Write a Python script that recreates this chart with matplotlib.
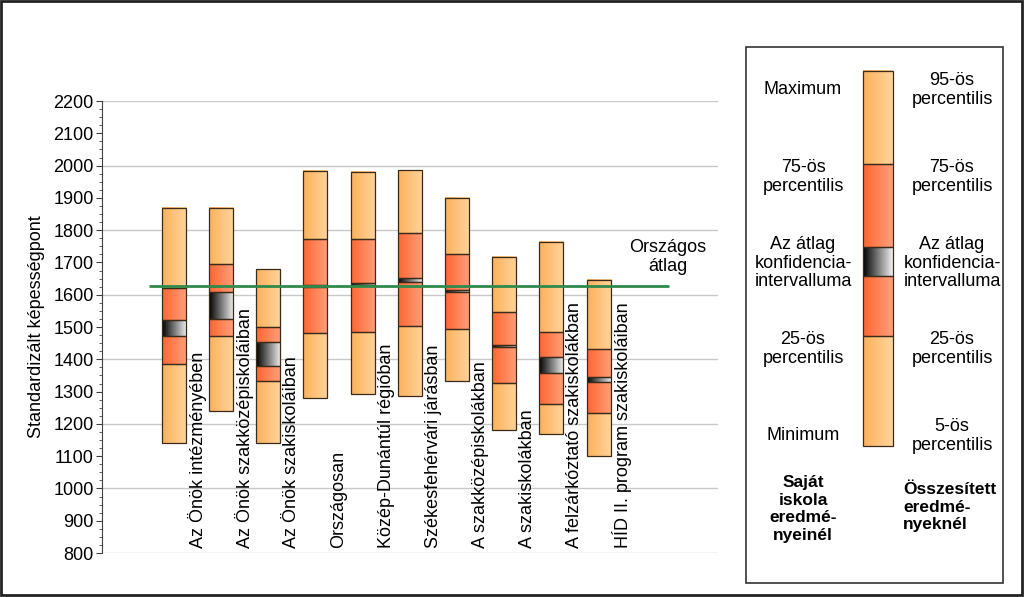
import numpy as np
import matplotlib
matplotlib.use("Agg")
import matplotlib.pyplot as plt
from matplotlib.patches import Rectangle
from matplotlib.colors import LinearSegmentedColormap
from matplotlib.ticker import MultipleLocator

plt.rcParams['font.family'] = ['Liberation Sans', 'DejaVu Sans']

# data
categories = ["Az Önök intézményében", "Az Önök szakközépiskoláiban",
              "Az Önök szakiskoláiban", "Országosan", "Közép-Dunántúl régióban",
              "Székesfehérvári járásban", "A szakközépiskolákban",
              "A szakiskolákban", "A felzárkóztató szakiskolákban",
              "HÍD II. program szakiskoláiban"]
p_low = [1140, 1240, 1140, 1281, 1293, 1286, 1334, 1181, 1169, 1101]
q1 = [1385, 1473, 1333, 1480, 1485, 1503, 1493, 1326, 1262, 1235]
ci_low = [1472, 1524, 1380, 1624, 1629, 1638, 1609, 1438, 1359, 1329]
ci_high = [1522, 1607, 1452, 1630, 1635, 1653, 1615, 1444, 1406, 1346]
q3 = [1622, 1694, 1501, 1772, 1772, 1792, 1725, 1546, 1483, 1431]
p_high = [1870, 1870, 1679, 1984, 1981, 1986, 1899, 1718, 1762, 1646]
national_avg = 1627

light = LinearSegmentedColormap.from_list("light", ["#FBB15A", "#FFD49C"])
red = LinearSegmentedColormap.from_list("red", ["#FF6530", "#FFA07C"])
ci = LinearSegmentedColormap.from_list("ci", ["#000000", "#F2F2F2"])
grad = np.linspace(0, 1, 256).reshape(1, -1)
edge = "#3a2a1a"
fs = 13


def grad_rect(ax, x0, x1, y0, y1, cmap):
    ax.imshow(grad, extent=(x0, x1, y0, y1), cmap=cmap, aspect='auto',
              interpolation='bilinear', zorder=2)
    ax.add_patch(Rectangle((x0, y0), x1 - x0, y1 - y0, fill=False,
                           ec=edge, lw=0.9, zorder=3))


fig = plt.figure(figsize=(10.24, 5.97), dpi=100)

# overlay in pixel coordinates for frame and legend
ov = fig.add_axes([0, 0, 1, 1], zorder=0)
ov.set_axis_off()

ax = fig.add_axes([102/1024, 1 - 553/597, 616/1024, 452/597], zorder=1)
ax.patch.set_alpha(0)

w = 0.255
for i in range(len(categories)):
    segs = [(p_low[i], q1[i], light), (q1[i], ci_low[i], red),
            (ci_low[i], ci_high[i], ci), (ci_high[i], q3[i], red),
            (q3[i], p_high[i], light)]
    for y0, y1, cm in segs:
        grad_rect(ax, i - w, i + w, y0, y1, cm)
    ax.text(i + 0.5, 816, categories[i], rotation=90, ha='center',
            va='bottom', fontsize=fs, zorder=4)

ax.plot([-0.52, 10.5], [national_avg, national_avg], color="#2F8A4C",
        lw=2, zorder=5, solid_capstyle='butt')
ax.text(10.47, 1717, "Országos\nátlag", ha='center', va='center',
        fontsize=fs, linespacing=1.15)

ax.set_xlim(-1.52, 11.53)
ax.set_ylim(800, 2200)
ax.yaxis.set_major_locator(MultipleLocator(100))
ax.yaxis.set_minor_locator(MultipleLocator(25))
ax.set_xticks([])
for g in range(800, 2201, 200):
    ax.axhline(g, color="#C8C8C8", lw=1, zorder=1)
for s in ['top', 'right', 'bottom']:
    ax.spines[s].set_visible(False)
ax.spines['left'].set_color("#404040")
ax.tick_params(axis='y', which='major', length=4, labelsize=fs, color="#404040", pad=2)
ax.tick_params(axis='y', which='minor', length=2.5, color="#404040")
ax.set_ylabel("Standardizált képességpont", fontsize=fs, labelpad=6)

# legend
ov.add_patch(Rectangle((746, 47), 257, 536, fill=False, ec="#333333", lw=1.2))
ys = [446, 336, 276, 246.7, 164, 70.7]
cms = [light, red, ci, red, light]
for k in range(5):
    ov.imshow(grad, extent=(863, 893, ys[k], ys[k + 1]), cmap=cms[k],
              aspect='auto', interpolation='bilinear')
    ov.add_patch(Rectangle((863, ys[k + 1]), 30, ys[k] - ys[k + 1],
                           fill=False, ec=edge, lw=0.9))

left_txt = ["Maximum", "75-ös\npercentilis", "Az átlag\nkonfidencia-\nintervalluma",
            "25-ös\npercentilis", "Minimum"]
right_txt = ["95-ös\npercentilis", "75-ös\npercentilis",
             "Az átlag\nkonfidencia-\nintervalluma", "25-ös\npercentilis",
             "5-ös\npercentilis"]
ty = [90, 177, 263, 349, 436]
for t, yy in zip(left_txt, ty):
    ov.text(803, yy, t, ha='center', va='center', fontsize=fs, linespacing=1.15)
for t, yy in zip(right_txt, ty):
    ov.text(952, yy, t, ha='center', va='center', fontsize=fs, linespacing=1.15)
ov.text(803, 509, "Saját\niskola\neredmé-\nnyeinél", ha='center', va='center',
        fontsize=12.5, fontweight='bold', linespacing=1.2)
ov.text(903, 507, "Összesített\neredmé-\nnyeknél", ha='left', va='center',
        fontsize=12.5, fontweight='bold', linespacing=1.2, multialignment='left')

# outer frame
ov.add_patch(Rectangle((1, 1), 1021, 594, fill=False, ec="#222222", lw=2))
ov.set_xlim(0, 1024)
ov.set_ylim(597, 0)

fig.savefig("out.png", dpi=100)
